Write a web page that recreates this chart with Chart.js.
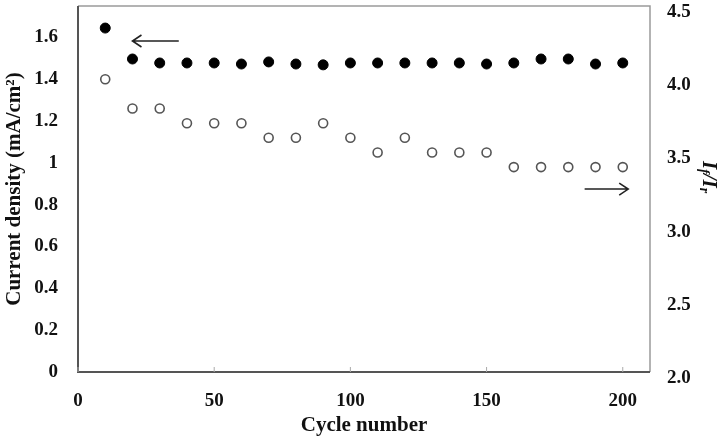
<!DOCTYPE html>
<html>
<head>
<meta charset="utf-8">
<script src="https://cdn.jsdelivr.net/npm/chart.js@4"></script>
<style>
  body { margin: 0; background: #fff; }
  #wrap { width: 722px; height: 438px; position: relative; }
</style>
</head>
<body>
<div id="wrap"><canvas id="cycleChart"></canvas></div>
<script>
// cycle numbers and the two series
var cycles = [10, 20, 30, 40, 50, 60, 70, 80, 90, 100, 110, 120, 130, 140, 150, 160, 170, 180, 190, 200];
var currentDensity = [1.645, 1.497, 1.478, 1.478, 1.478, 1.473, 1.483, 1.473, 1.469, 1.478,
                      1.478, 1.478, 1.478, 1.478, 1.473, 1.478, 1.497, 1.497, 1.473, 1.478];
var ifIr = [4.00, 3.80, 3.80, 3.70, 3.70, 3.70, 3.60, 3.60, 3.70, 3.60,
            3.50, 3.60, 3.50, 3.50, 3.50, 3.40, 3.40, 3.40, 3.40, 3.40];
var xTicks = [0, 50, 100, 150, 200];
var leftTicks = [0, 0.2, 0.4, 0.6, 0.8, 1, 1.2, 1.4, 1.6];
var rightTicks = [2.0, 2.5, 3.0, 3.5, 4.0, 4.5];

var serif = "'Liberation Serif', 'Times New Roman', serif";
var tickFont = { family: serif, size: 19, weight: "bold" };
var titleFont = { family: serif, size: 21, weight: "bold" };

function toPoints(ys) {
    return cycles.map(function (c, i) { return { x: c, y: ys[i] }; });
}

function fixedTicks(list) {
    return function (s) {
        s.ticks = list.map(function (v) { return { value: v }; });
    };
}

// frame around the plot, the two arrows and the right-hand title
var extras = {
    id: "extras",
    afterDatasetsDraw: function (chart) {
        var ctx = chart.ctx;
        var a = chart.chartArea;
        var x = chart.scales.x, yl = chart.scales.y, yr = chart.scales.y1;
        ctx.save();
        ctx.strokeStyle = "#9a9a9a";
        ctx.lineWidth = 1.5;
        ctx.beginPath();
        ctx.moveTo(a.left, a.top);
        ctx.lineTo(a.right, a.top);
        ctx.lineTo(a.right, a.bottom);
        ctx.stroke();
        ctx.strokeStyle = "#555";
        ctx.lineWidth = 2;
        ctx.beginPath();
        ctx.moveTo(a.left, a.top);
        ctx.lineTo(a.left, a.bottom);
        ctx.lineTo(a.right, a.bottom);
        ctx.stroke();

        // small inside tick marks on the x axis
        ctx.strokeStyle = "#aaa";
        ctx.lineWidth = 1;
        xTicks.forEach(function (t) {
            var px = x.getPixelForValue(t);
            ctx.beginPath();
            ctx.moveTo(px, a.bottom);
            ctx.lineTo(px, a.bottom - 5);
            ctx.stroke();
        });

        function arrow(x0, x1, y) {
            var dir = x1 > x0 ? 1 : -1;
            ctx.strokeStyle = "#222";
            ctx.lineWidth = 1.6;
            ctx.beginPath();
            ctx.moveTo(x0, y);
            ctx.lineTo(x1, y);
            ctx.moveTo(x1 - dir * 9, y - 6);
            ctx.lineTo(x1, y);
            ctx.lineTo(x1 - dir * 9, y + 6);
            ctx.stroke();
        }
        arrow(x.getPixelForValue(37), x.getPixelForValue(20), yl.getPixelForValue(1.583));
        arrow(x.getPixelForValue(186), x.getPixelForValue(202), yr.getPixelForValue(3.25));

        // I_f/I_r, rotated like a right-side axis title
        ctx.translate(708, (a.top + a.bottom) / 2 - 12);
        ctx.rotate(Math.PI / 2);
        ctx.fillStyle = "#111";
        ctx.textBaseline = "middle";
        var big = "italic bold 21px " + serif, small = "italic bold 14px " + serif;
        var parts = [["I", big, 0], ["f", small, 4], ["/I", big, 0], ["r", small, 4]];
        var w = 0;
        parts.forEach(function (p) { ctx.font = p[1]; w += ctx.measureText(p[0]).width; });
        var cx = -w / 2;
        parts.forEach(function (p) {
            ctx.font = p[1];
            ctx.fillText(p[0], cx, p[2]);
            cx += ctx.measureText(p[0]).width;
        });
        ctx.restore();
    }
};

var chart = new Chart(document.getElementById("cycleChart"), {
    type: "scatter",
    data: {
        datasets: [
            {
                label: "Current density",
                data: toPoints(currentDensity),
                yAxisID: "y",
                pointRadius: 5,
                pointBackgroundColor: "#000",
                pointBorderColor: "#000",
                pointBorderWidth: 1,
            },
            {
                label: "If/Ir",
                data: toPoints(ifIr),
                yAxisID: "y1",
                pointRadius: 4.5,
                pointBackgroundColor: "#fff",
                pointBorderColor: "#555",
                pointBorderWidth: 1.6,
            },
        ],
    },
    options: {
        responsive: true,
        maintainAspectRatio: false,
        animation: false,
        layout: { padding: { top: 5, right: 0, left: 0, bottom: 0 } },
        plugins: { legend: { display: false }, tooltip: { enabled: false } },
        scales: {
            x: {
                type: "linear",
                min: 0,
                max: 210,
                border: { display: false },
                grid: { display: false },
                afterBuildTicks: fixedTicks(xTicks),
                ticks: {
                    autoSkip: false,
                    maxRotation: 0,
                    color: "#111",
                    font: tickFont,
                    padding: 10,
                    callback: function (v) { return String(v); },
                },
                title: {
                    display: true,
                    text: "Cycle number",
                    color: "#111",
                    font: titleFont,
                    padding: { top: 0, bottom: 0 },
                },
                afterFit: function (s) { s.height = 66; s.paddingLeft = 0; s.paddingRight = 0; },
            },
            y: {
                position: "left",
                min: 0,
                max: 1.75,
                border: { display: false },
                grid: { display: false },
                afterBuildTicks: fixedTicks(leftTicks),
                ticks: {
                    autoSkip: false,
                    color: "#111",
                    font: tickFont,
                    padding: 12,
                    callback: function (v) { return String(Number(v.toFixed(1))); },
                },
                title: {
                    display: true,
                    text: "Current density (mA/cm²)",
                    color: "#111",
                    font: titleFont,
                    padding: { top: 2, bottom: 0 },
                },
                afterFit: function (s) { s.width = 78; s.paddingTop = 0; s.paddingBottom = 0; },
            },
            y1: {
                position: "right",
                min: 2,
                max: 4.5,
                border: { display: false },
                grid: { display: false },
                afterBuildTicks: fixedTicks(rightTicks),
                ticks: {
                    autoSkip: false,
                    color: "#111",
                    font: tickFont,
                    padding: 9,
                    labelOffset: 6,
                    callback: function (v) { return v.toFixed(1); },
                },
                afterFit: function (s) { s.width = 72; s.paddingTop = 0; s.paddingBottom = 0; },
            },
        },
    },
    plugins: [extras],
});
</script>
</body>
</html>
